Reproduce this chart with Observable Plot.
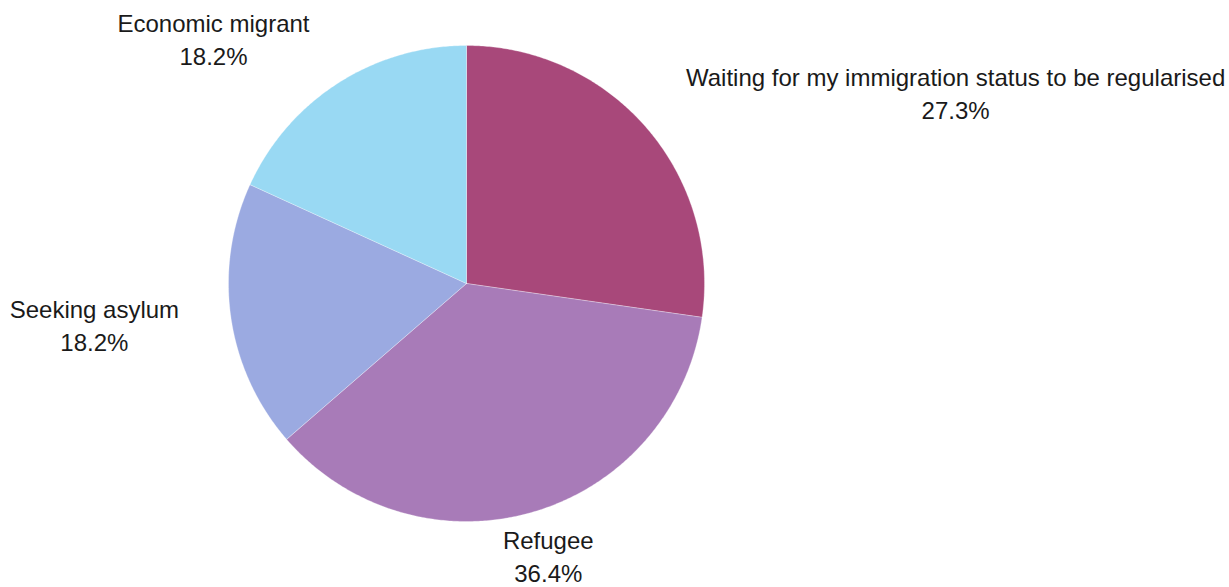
<!DOCTYPE html>
<html>
<head>
<meta charset="utf-8">
<script src="https://cdn.jsdelivr.net/npm/d3@7"></script>
<script src="https://cdn.jsdelivr.net/npm/@observablehq/plot@0.6"></script>
<style>
  html, body { margin: 0; padding: 0; background: #ffffff; }
  #chart { width: 1229px; height: 587px; }
</style>
</head>
<body>
<div id="chart"></div>
<script>
// ---- data ----
const categories = [
  "Waiting for my immigration status to be regularised",
  "Refugee",
  "Seeking asylum",
  "Economic migrant"
];
const percents = [27.3, 36.4, 18.2, 18.2];
const percentLabels = ["27.3%", "36.4%", "18.2%", "18.2%"];
const colors = ["#a8487a", "#a87bb8", "#9baae1", "#99d9f3"];

// ---- layout ----
const W = 1229, H = 587;
const CX = 466, CY = 283, R = 238;
const FONT_SIZE = 24;
const LINE_HEIGHT = 1.375;
const FONT_FAMILY = "'Liberation Sans', Arial, Helvetica, sans-serif";

const pie = d3.pie().sort(null).value(d => d)(percents);

// slice polygons in radius units (angle measured clockwise from 12 o'clock)
const slicePts = [];
pie.forEach((p, i) => {
  const cat = categories[i];
  slicePts.push({cat, x: 0, y: 0});
  const n = Math.max(2, Math.ceil((p.endAngle - p.startAngle) / (Math.PI / 360)));
  for (let k = 0; k <= n; k++) {
    const a = p.startAngle + (p.endAngle - p.startAngle) * k / n;
    slicePts.push({cat, x: Math.sin(a), y: Math.cos(a)});
  }
  slicePts.push({cat, x: 0, y: 0});
});

// label placement: vertical centre on the label ring, horizontal edge-aligned,
// kept inside the bottom edge of the picture
const ctx = document.createElement("canvas").getContext("2d");
ctx.font = `${FONT_SIZE}px ${FONT_FAMILY}`;
const KR = 1.22;
const yMin = -(H - 32 - CY) / R;
const labels = pie.map((p, i) => {
  const a = (p.startAngle + p.endAngle) / 2;
  const s = Math.sin(a), c = Math.cos(a);
  const w = Math.max(ctx.measureText(categories[i]).width, ctx.measureText(percentLabels[i]).width) / R;
  let x = KR * s, y = Math.max(KR * c, yMin);
  if (s > 0.4) x += w / 2; else if (s < -0.4) x -= w / 2;
  return {x, y, text: categories[i] + "\n" + percentLabels[i]};
});

const chart = Plot.plot({
  width: W,
  height: H,
  margin: 0,
  style: {fontFamily: FONT_FAMILY, background: "#ffffff"},
  x: {domain: [-CX / R, (W - CX) / R], range: [0, W], axis: null},
  y: {domain: [-(H - CY) / R, CY / R], range: [H, 0], axis: null},
  color: {domain: categories, range: colors},
  marks: [
    Plot.line(slicePts, {x: "x", y: "y", z: "cat", fill: "cat", stroke: "#ffffff", strokeWidth: 0.3, curve: "linear-closed"}),
    Plot.text(labels, {
      x: "x", y: "y", text: "text",
      fontSize: FONT_SIZE, lineHeight: LINE_HEIGHT,
      textAnchor: "middle", lineAnchor: "middle", dy: -1,
      fill: "#1a1a1a"
    })
  ]
});
document.getElementById("chart").appendChild(chart);
</script>
</body>
</html>
